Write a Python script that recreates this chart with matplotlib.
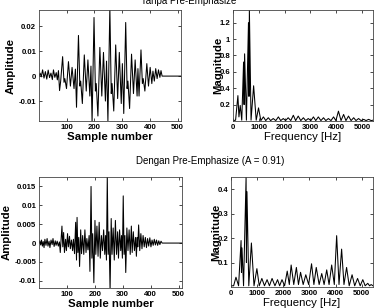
import matplotlib
matplotlib.use("Agg")
import matplotlib.pyplot as plt

plt.rcParams['font.family'] = ['Liberation Sans', 'DejaVu Sans']
plt.rcParams['axes.unicode_minus'] = False

# ---------------- data ----------------
title_top = "Tanpa Pre-Emphasize"
title_bottom = "Dengan Pre-Emphasize (A = 0.91)"

# waveform without pre-emphasis: (sample, amplitude) turning points
wave_plain = [
    (1, 0.0), (5, 0.0012), (9, -0.0003), (14, 0.0025), (19, -0.0008), (24, 0.0018),
    (29, -0.0012), (34, 0.0024), (39, -0.0006), (44, 0.0012), (49, -0.0014), (53, 0.0025),
    (58, -0.0005), (63, 0.0014), (67, -0.0015), (71, 0.0022), (75, -0.0058), (79, -0.002),
    (86, 0.0078), (91, -0.0025), (94, -0.001), (100, -0.005), (107, 0.0058), (114, -0.004),
    (120, 0.0035), (127, -0.005), (132, 0.0028), (136, -0.0125),
    (143, 0.0163), (148, -0.004), (151, -0.002), (157, -0.011), (164, 0.0085), (171, -0.006),
    (177, 0.0065), (184, -0.008), (188, 0.004), (192, -0.0185),
    (199, 0.0235), (204, -0.006), (207, -0.003), (213, -0.016), (220, 0.0115), (227, -0.008),
    (233, 0.0095), (240, -0.01), (244, 0.006), (249, -0.018),
    (256, 0.0275), (261, -0.007), (264, -0.003), (270, -0.014), (277, 0.0125), (284, -0.009),
    (290, 0.0095), (297, -0.011), (301, 0.005), (306, -0.015),
    (313, 0.0215), (318, -0.005), (321, -0.002), (327, -0.013), (334, 0.0088), (341, -0.007),
    (347, 0.0065), (354, -0.008), (357, 0.003), (361, -0.008),
    (368, 0.0105), (373, -0.003), (376, -0.001), (382, -0.006), (389, 0.005), (395, -0.004),
    (401, 0.0035), (407, -0.003), (411, 0.002), (416, -0.002),
    (421, 0.003), (426, -0.001), (431, 0.0025), (436, -0.0005), (440, 0.0022), (444, 0.0),
    (512, 0.0),
]

# waveform with pre-emphasis
wave_emph = [
    (1, 0.0), (4, 0.0006), (7, -0.0005), (10, 0.0008), (13, -0.0008), (16, 0.0004),
    (19, -0.0012), (22, 0.001), (26, -0.0006), (30, 0.0012), (33, -0.0008), (37, 0.0005),
    (40, -0.0012), (44, 0.0008), (48, -0.0004), (51, 0.0012), (55, -0.0009), (59, 0.0006),
    (62, -0.0006), (66, 0.0005), (70, -0.0008), (74, 0.0003), (77, -0.0025),
    (83, 0.0045), (86, -0.001), (89, 0.0028), (92, -0.0025), (96, 0.001), (99, -0.002),
    (103, 0.0025), (106, -0.001), (110, 0.0018), (113, -0.0015), (117, 0.0008), (121, -0.002),
    (124, 0.001), (128, -0.0028), (132, 0.0055), (135, -0.0045), (137, 0.0068), (140, -0.0025),
    (143, 0.0015), (146, -0.0062), (150, 0.0035), (153, -0.0028), (157, 0.002), (161, -0.003),
    (165, 0.0035), (169, -0.0025), (172, 0.0012), (176, -0.0018), (180, 0.002), (183, -0.0075),
    (187, 0.015), (190, -0.004), (193, 0.0025), (197, -0.0105), (201, 0.006), (204, -0.003),
    (208, 0.0045), (212, -0.0035), (216, 0.0055), (220, -0.004), (224, 0.002), (228, -0.002),
    (232, 0.0035), (236, -0.003), (239, 0.002), (242, -0.0045), (245, 0.0178), (248, -0.003),
    (251, 0.003), (255, -0.0125), (259, 0.0065), (262, -0.003), (266, 0.004), (270, -0.0045),
    (274, 0.006), (278, -0.003), (282, 0.003), (285, -0.004), (289, 0.0035), (293, -0.002),
    (296, 0.002), (299, -0.004), (302, 0.0125), (305, -0.003), (308, 0.002), (311, -0.0078),
    (315, 0.004), (319, -0.002), (323, 0.0035), (327, -0.003), (331, 0.0045), (334, -0.0025),
    (338, 0.003), (342, -0.002), (346, 0.0015), (349, -0.0035), (352, 0.0015), (354, -0.001),
    (357, 0.0048), (361, -0.002), (365, 0.0025), (369, -0.0015), (373, 0.002), (377, -0.001),
    (381, 0.0015), (385, -0.0012), (389, 0.0012), (393, -0.0008), (397, 0.0014), (401, -0.001),
    (405, 0.0008), (409, -0.0006), (413, 0.001), (417, -0.0005), (421, 0.0008), (425, -0.0006),
    (429, 0.0006), (433, -0.0004), (437, 0.0005), (441, 0.0), (512, 0.0),
]

# magnitude spectra (frequency in Hz, magnitude)
spec_plain_f = [0, 100, 190, 230, 280, 340, 410, 430, 450, 520, 600, 620, 635, 700, 800, 900,
                990, 1080, 1180, 1270, 1370, 1460, 1560, 1660, 1760, 1850, 1950, 2040, 2140, 2240,
                2340, 2430, 2530, 2630, 2730, 2820, 2920, 3020, 3120, 3210, 3310, 3410, 3510, 3600,
                3700, 3800, 3900, 3990, 4090, 4190, 4290, 4380, 4480, 4580, 4680, 4770, 4870, 4970,
                5070, 5160, 5260, 5360, 5430]
spec_plain_m = [0.005, 0.01, 0.31, 0.05, 0.19, 0.01, 0.72, 0.2, 0.82, 0.01, 1.2, 0.3, 1.36, 0.01,
                0.43, 0.01, 0.16, 0.005, 0.05, 0.005, 0.04, 0.005, 0.03, 0.005, 0.05, 0.005, 0.03,
                0.005, 0.04, 0.005, 0.07, 0.005, 0.06, 0.005, 0.04, 0.005, 0.03, 0.005, 0.05, 0.005,
                0.05, 0.005, 0.04, 0.005, 0.03, 0.005, 0.05, 0.005, 0.12, 0.005, 0.08, 0.005, 0.06,
                0.005, 0.04, 0.005, 0.03, 0.005, 0.02, 0.005, 0.02, 0.005, 0.01]

spec_emph_f = [0, 100, 190, 290, 385, 400, 420, 480, 577, 590, 610, 680, 780, 880, 990, 1080,
               1180, 1280, 1380, 1470, 1570, 1680, 1780, 1860, 1950, 2050, 2150, 2230, 2300, 2400,
               2500, 2580, 2660, 2760, 2860, 2970, 3080, 3170, 3260, 3370, 3470, 3560, 3660, 3750,
               3850, 3950, 4040, 4130, 4230, 4320, 4420, 4520, 4630, 4730, 4840, 4940, 5040, 5130,
               5230, 5300, 5360, 5430]
spec_emph_m = [0.005, 0.005, 0.04, 0.005, 0.19, 0.06, 0.16, 0.005, 0.45, 0.1, 0.39, 0.005, 0.18,
               0.005, 0.075, 0.005, 0.035, 0.005, 0.03, 0.005, 0.035, 0.005, 0.03, 0.005, 0.03,
               0.005, 0.065, 0.01, 0.09, 0.01, 0.08, 0.01, 0.06, 0.01, 0.05, 0.01, 0.095, 0.01,
               0.08, 0.01, 0.055, 0.01, 0.07, 0.01, 0.09, 0.01, 0.21, 0.01, 0.155, 0.01, 0.08,
               0.005, 0.05, 0.005, 0.035, 0.005, 0.03, 0.005, 0.015, 0.005, 0.01, 0.005]

time_ticks = [100, 200, 300, 400, 500]
freq_ticks = [0, 1000, 2000, 3000, 4000, 5000]
amp_ticks_plain = [-0.01, 0, 0.01, 0.02]
amp_ticks_emph = [-0.01, -0.005, 0, 0.005, 0.01, 0.015]
mag_ticks_plain = [0.2, 0.4, 0.6, 0.8, 1, 1.2]
mag_ticks_emph = [0.1, 0.2, 0.3, 0.4]

# ---------------- drawing ----------------
W, H = 382, 308
fig = plt.figure(figsize=(W / 100, H / 100), dpi=100)


def box(l, t, r, b):
    return [l / W, 1 - b / H, (r - l) / W, (b - t) / H]


ax_tl = fig.add_axes(box(39, 10, 181, 121))
ax_tr = fig.add_axes(box(233, 10, 373, 121))
ax_bl = fig.add_axes(box(39, 177, 182, 288))
ax_br = fig.add_axes(box(231, 177, 373, 287))

tick_fs = 5.6
lab_fs = 8.2


def style(ax):
    ax.tick_params(direction='in', top=True, right=True, length=2, width=0.5,
                   labelsize=tick_fs, pad=2, colors='black')
    for lbl in ax.get_xticklabels() + ax.get_yticklabels():
        lbl.set_fontweight('bold')
    for s in ax.spines.values():
        s.set_linewidth(0.6)
        s.set_color('#444444')


n, a = zip(*wave_plain)
ax_tl.plot(n, a, color='black', lw=0.75)
ax_tl.set_xlim(1, 512)
ax_tl.set_ylim(-0.018, 0.0265)
ax_tl.set_xticks(time_ticks)
ax_tl.set_yticks(amp_ticks_plain)
ax_tl.set_yticklabels(['-0.01', '0', '0.01', '0.02'])
ax_tl.set_xlabel('Sample number', fontsize=lab_fs, fontweight='bold', labelpad=1)
ax_tl.set_ylabel('Amplitude', fontsize=lab_fs, fontweight='bold', labelpad=2)
style(ax_tl)

ax_tr.plot(spec_plain_f, spec_plain_m, color='black', lw=0.75)
ax_tr.set_xlim(0, 5430)
ax_tr.set_ylim(0, 1.355)
ax_tr.set_xticks(freq_ticks)
ax_tr.set_yticks(mag_ticks_plain)
ax_tr.set_yticklabels(['0.2', '0.4', '0.6', '0.8', '1', '1.2'])
ax_tr.set_xlabel('Frequency [Hz]', fontsize=lab_fs, labelpad=1)
ax_tr.set_ylabel('Magnitude', fontsize=lab_fs, fontweight='bold', labelpad=-3)
style(ax_tr)

n, a = zip(*wave_emph)
ax_bl.plot(n, a, color='black', lw=0.75)
ax_bl.set_xlim(1, 512)
ax_bl.set_ylim(-0.0119, 0.0175)
ax_bl.set_xticks(time_ticks)
ax_bl.set_yticks(amp_ticks_emph)
ax_bl.set_yticklabels(['-0.01', '-0.005', '0', '0.005', '0.01', '0.015'])
ax_bl.set_xlabel('Sample number', fontsize=lab_fs, fontweight='bold', labelpad=1)
ax_bl.set_ylabel('Amplitude', fontsize=lab_fs, fontweight='bold', labelpad=2)
style(ax_bl)

ax_br.plot(spec_emph_f, spec_emph_m, color='black', lw=0.75)
ax_br.set_xlim(0, 5430)
ax_br.set_ylim(0, 0.45)
ax_br.set_xticks(freq_ticks)
ax_br.set_yticks(mag_ticks_emph)
ax_br.set_yticklabels(['0.1', '0.2', '0.3', '0.4'])
ax_br.set_xlabel('Frequency [Hz]', fontsize=lab_fs, labelpad=1)
ax_br.set_ylabel('Magnitude', fontsize=lab_fs, fontweight='bold', labelpad=-3)
style(ax_br)

fig.text(189 / W, 1 - 0.5 / H, title_top, ha='center', va='center', fontsize=7)
fig.text(210 / W, 1 - 161 / H, title_bottom, ha='center', va='center', fontsize=7)

fig.savefig('out.png', dpi=100)
